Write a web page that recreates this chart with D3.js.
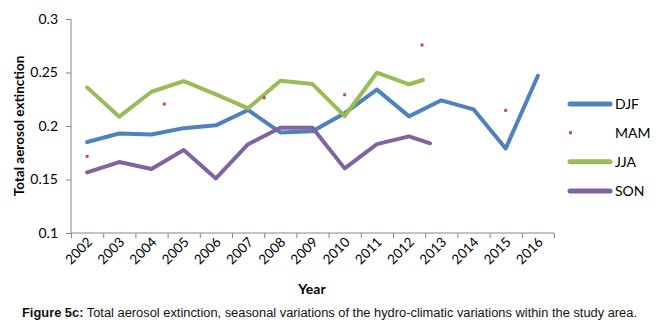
<!DOCTYPE html>
<html><head><meta charset="utf-8">
<script src="https://cdn.jsdelivr.net/npm/d3@7"></script>
<style>html,body{margin:0;padding:0;background:#fff;}svg{display:block;}</style>
</head><body>
<svg id="c" width="659" height="329"></svg>
<script>
const years = [2002,2003,2004,2005,2006,2007,2008,2009,2010,2011,2012,2013,2014,2015,2016];
const yTicks = [0.1,0.15,0.2,0.25,0.3];
const seriesNames = ["DJF","MAM","JJA","SON"];
const colors = ["#4F81BD","#C0504D","#9BBB59","#8064A2"];

const djfX = [2002,2003,2004,2005,2006,2007,2008,2009,2010,2011,2012,2013,2014,2015,2016];
const djfY = [0.185,0.193,0.192,0.198,0.2006,0.215,0.194,0.195,0.212,0.234,0.209,0.224,0.2156,0.179,0.247];
const mamX = [2002,2004.4,2007.5,2010,2012.4,2015];
const mamY = [0.1716,0.2205,0.2264,0.2292,0.2757,0.2146];
const jjaX = [2002,2003,2004,2005,2006,2007,2008,2009,2010,2011,2012,2012.43];
const jjaY = [0.2361,0.2087,0.232,0.242,0.2296,0.2165,0.2423,0.2392,0.2093,0.2498,0.239,0.243];
const sonX = [2002,2003,2004,2005,2006,2007,2008,2009,2010,2011,2012,2012.65];
const sonY = [0.1566,0.1663,0.1598,0.1775,0.151,0.183,0.1984,0.1984,0.1604,0.1831,0.1903,0.1838];

const svg = d3.select("#c");
svg.append("rect").attr("width",659).attr("height",329).attr("fill","#fff");
const font = "Lato, 'Open Sans', sans-serif";

const xBand = d3.scaleBand().domain(years).range([71,554]).padding(0);
const xPos = d3.scaleLinear().domain([2001.5,2016.5]).range([71,554]);
const y = d3.scaleLinear().domain([0.1,0.3]).range([233,19]);

// Y axis
const yAx = svg.append("g").attr("transform","translate(71,0)")
  .call(d3.axisLeft(y).tickValues(yTicks).tickSize(5).tickPadding(8).tickFormat(d3.format("")));
yAx.selectAll("path,line").attr("stroke","#868686");
yAx.select(".domain").attr("d","M0,19V233");
yAx.selectAll("text").attr("font-family",font).attr("font-size",14).attr("fill","#000");

// X axis
const bounds = d3.range(2001.5,2017,1);
const xAx = svg.append("g").attr("transform","translate(0,233)")
  .call(d3.axisBottom(xPos).tickValues(bounds).tickSize(5).tickFormat(""));
xAx.selectAll("path,line").attr("stroke","#868686");
xAx.select(".domain").attr("d","M71,0H554");

svg.append("g").selectAll("text").data(years).join("text")
  .attr("transform",d=>`translate(${xBand(d)+xBand.bandwidth()/2+6},${243}) rotate(-45)`)
  .attr("text-anchor","end").attr("font-family",font).attr("font-size",13.5).attr("fill","#000")
  .text(d=>d);

// Lines
const lineGen = d3.line().x(d=>xPos(d[0])).y(d=>y(d[1]));
const lineData = [
  {name:"DJF", c:colors[0], pts:d3.zip(djfX,djfY)},
  {name:"JJA", c:colors[2], pts:d3.zip(jjaX,jjaY)},
  {name:"SON", c:colors[3], pts:d3.zip(sonX,sonY)}
];
svg.append("g").selectAll("path").data(lineData).join("path")
  .attr("d",d=>lineGen(d.pts)).attr("fill","none").attr("stroke",d=>d.c)
  .attr("stroke-width",4).attr("stroke-linejoin","round").attr("stroke-linecap","round");

// MAM markers
svg.append("g").selectAll("rect").data(d3.zip(mamX,mamY)).join("rect")
  .attr("x",d=>xPos(d[0])-1.5).attr("y",d=>y(d[1])-1.5).attr("width",3).attr("height",3)
  .attr("fill",colors[1]);

// Legend
const legY = [104,132.7,161.7,191];
const lg = svg.append("g");
seriesNames.forEach((n,i)=>{
  if(n==="MAM"){
    lg.append("rect").attr("x",569).attr("y",legY[i]-1.5).attr("width",3).attr("height",3).attr("fill",colors[i]);
  } else {
    lg.append("line").attr("x1",570).attr("x2",610).attr("y1",legY[i]).attr("y2",legY[i])
      .attr("stroke",colors[i]).attr("stroke-width",5).attr("stroke-linecap","round");
  }
  lg.append("text").attr("x",615).attr("y",legY[i]+5).attr("font-family",font).attr("font-size",14)
    .attr("fill","#000").text(n);
});

// Axis titles
svg.append("text").attr("transform","translate(24,126) rotate(-90)").attr("text-anchor","middle")
  .attr("font-family",font).attr("font-weight","bold").attr("font-size",13.5).attr("fill","#000")
  .text("Total aerosol extinction");
svg.append("text").attr("x",312).attr("y",294).attr("text-anchor","middle")
  .attr("font-family",font).attr("font-weight","bold").attr("font-size",14).attr("fill","#000")
  .text("Year");

// Caption
const cap = svg.append("text").attr("x",22).attr("y",317).attr("font-family","'Liberation Sans Narrow','Liberation Sans',Arial,sans-serif")
  .attr("font-size",12.5).attr("fill","#111").attr("textLength",615).attr("lengthAdjust","spacingAndGlyphs");
cap.append("tspan").attr("font-weight","bold").text("Figure 5c:");
cap.append("tspan").text(" Total aerosol extinction, seasonal variations of the hydro-climatic variations within the study area.");
</script>
</body></html>
